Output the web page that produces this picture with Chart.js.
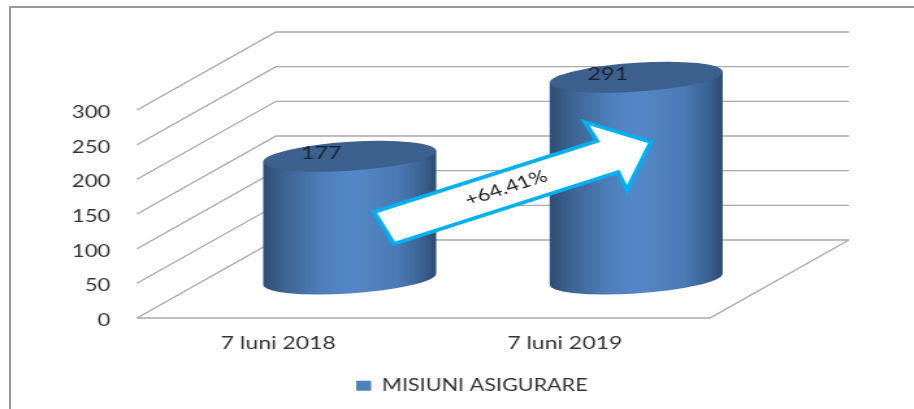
<!DOCTYPE html>
<html>
<head>
<meta charset="utf-8">
<style>
html,body{margin:0;padding:0;background:#fff;overflow:hidden;width:914px;height:409px}
#frame{position:absolute;left:9px;top:6px;width:920px;height:420px;border:2px solid #999;box-sizing:border-box}
#wrap{position:absolute;left:0;top:0;width:914px;height:409px;overflow:hidden}
canvas{position:absolute;left:0;top:0;transform-origin:0 0;transform:scaleX(1.3)}
</style>
<script src="https://cdn.jsdelivr.net/npm/chart.js@4"></script>
</head>
<body>
<div id="frame"></div>
<div id="wrap"><canvas id="c" width="703" height="409"></canvas></div>
<script>
const categories = ['7 luni 2018', '7 luni 2019'];
const seriesName = 'MISIUNI ASIGURARE';
const seriesValues = [177, 291];
const tickStep = 50;
const axisMax = 300;
const changeLabel = '+64.41%';

const S = 1.3;              // the reference is a horizontally stretched picture
const W = 914 / S;
const DX = 139 / S, DY = -78;
const FONT = 'Lato';
const TXT = '#333333';
const PAD_BOTTOM = 5;

// arrow outline, in page pixels
const arrow = [[374,212],[394,244],[618,172],[627,190],[651,142],[585,122],[597,141]];

function cylinder(ctx, el) {
  const rx = el.width / 2;
  const b = 14.5, k = 5.5 / rx;
  const cx = el.x + DX / 2, cy = el.base + DY / 2;
  const h = el.base - el.y;
  ctx.save();
  ctx.transform(1, -k, 0, 1, cx, cy);
  const g = ctx.createLinearGradient(-rx, 0, rx, 0);
  g.addColorStop(0, '#2f4d75');
  g.addColorStop(0.12, '#3d6392');
  g.addColorStop(0.35, '#4f80bd');
  g.addColorStop(0.52, '#5588c8');
  g.addColorStop(0.78, '#4b7ab4');
  g.addColorStop(0.93, '#3a5f8e');
  g.addColorStop(1, '#2d4a70');
  ctx.beginPath();
  ctx.moveTo(-rx, -h);
  ctx.lineTo(-rx, 0);
  ctx.ellipse(0, 0, rx, b, 0, Math.PI, 0, true);
  ctx.lineTo(rx, -h);
  ctx.closePath();
  ctx.fillStyle = g;
  ctx.fill();
  ctx.beginPath();
  ctx.ellipse(0, -h, rx, b, 0, 0, Math.PI * 2);
  ctx.fillStyle = '#3c618f';
  ctx.fill();
  ctx.restore();
}

const scene = {
  id: 'scene',
  afterLayout(chart) {
    // the legend sits right of the plot centre in the reference
    chart.legend.left += 90;
    chart.legend.right += 90;
  },
  beforeDatasetsDraw(chart) {
    const ctx = chart.ctx, y = chart.scales.y, a = chart.chartArea;
    ctx.save();
    ctx.strokeStyle = '#a9a9a9';
    ctx.lineWidth = 1.3;
    y.ticks.forEach((t, i) => {
      const p = y.getPixelForTick(i);
      ctx.beginPath();
      ctx.moveTo(a.left, p);
      ctx.lineTo(a.left + DX, p + DY);
      ctx.lineTo(a.right + DX, p + DY);
      ctx.stroke();
    });
    const p0 = y.getPixelForValue(0);
    ctx.beginPath();
    ctx.moveTo(a.left, p0);
    ctx.lineTo(a.right, p0);
    ctx.lineTo(a.right + DX, p0 + DY);
    ctx.stroke();
    ctx.restore();
  },
  beforeDatasetDraw(chart, args) {
    const ctx = chart.ctx;
    args.meta.data.forEach(el => cylinder(ctx, el));
    return false;
  },
  afterDatasetsDraw(chart) {
    const ctx = chart.ctx;
    const meta = chart.getDatasetMeta(0);
    ctx.save();
    ctx.font = '18px ' + FONT;
    ctx.fillStyle = '#1a2430';
    ctx.textAlign = 'center';
    ctx.textBaseline = 'middle';
    meta.data.forEach((el, i) => {
      ctx.fillText(String(seriesValues[i]), el.x + DX / 2 - 28.5 / S, el.y + DY / 2 - 3);
    });
    ctx.beginPath();
    arrow.forEach((p, i) => {
      const x = p[0] / S, yy = p[1];
      if (i) ctx.lineTo(x, yy); else ctx.moveTo(x, yy);
    });
    ctx.closePath();
    ctx.fillStyle = '#ffffff';
    ctx.fill();
    ctx.lineWidth = 3.6;
    ctx.lineJoin = 'miter';
    ctx.strokeStyle = '#00b0f0';
    ctx.stroke();
    ctx.translate(506 / S, 188);
    ctx.rotate(-22.6 * Math.PI / 180);
    ctx.font = '17px ' + FONT;
    ctx.fillStyle = '#222222';
    ctx.fillText(changeLabel, 0, 0);
    ctx.restore();
  }
};

new Chart(document.getElementById('c'), {
  type: 'bar',
  data: {
    labels: categories,
    datasets: [{
      label: seriesName,
      data: seriesValues,
      backgroundColor: '#4f81bd',
      borderWidth: 0,
      categoryPercentage: 1,
      barPercentage: 0.604
    }]
  },
  plugins: [scene],
  options: {
    responsive: false,
    animation: false,
    layout: { padding: { left: 0, right: W - 710 / S, top: 110, bottom: PAD_BOTTOM } },
    scales: {
      x: {
        grid: { display: false },
        border: { display: false },
        ticks: { font: { family: FONT, size: 17.7 }, color: TXT, padding: 7, maxRotation: 0, labelOffset: -1.5 },
        afterFit(s) { s.height = 91 - PAD_BOTTOM - (s.chart.legend ? s.chart.legend.height : 0); }
      },
      y: {
        min: 0,
        max: axisMax,
        grid: { display: false },
        border: { display: false },
        ticks: { stepSize: tickStep, font: { family: FONT, size: 17 }, color: TXT, padding: 12.5, labelOffset: 2.5 },
        afterFit(s) { s.width = 137 / S; }
      }
    },
    plugins: {
      title: { display: false },
      tooltip: { enabled: false },
      legend: {
        position: 'bottom',
        labels: { boxWidth: 11.5, boxHeight: 10, font: { family: FONT, size: 16.6 }, color: TXT, padding: 2 }
      }
    }
  }
});
</script>
</body>
</html>
